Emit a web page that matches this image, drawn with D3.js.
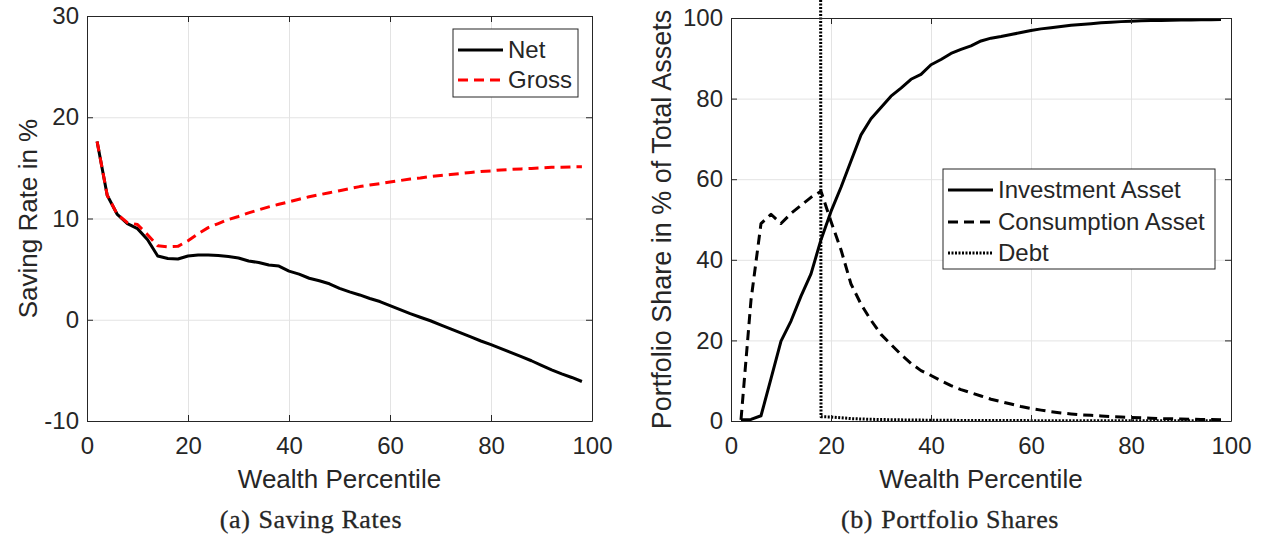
<!DOCTYPE html>
<html>
<head>
<meta charset="utf-8">
<script src="https://cdn.jsdelivr.net/npm/d3@7"></script>
<style>
body { margin: 0; background: #fff; }
svg text { font-family: "Liberation Sans", Arial, sans-serif; fill: #262626; }
</style>
</head>
<body>
<div id="chart"></div>
<script>
// wealth percentile grid shared by both panels
const percentile = [2, 4, 6, 8, 10, 12, 14, 16, 18, 20, 22, 24, 26, 28, 30, 32, 34, 36, 38, 40,
  42, 44, 46, 48, 50, 52, 54, 56, 58, 60, 62, 64, 66, 68, 70, 72, 74, 76, 78, 80,
  82, 84, 86, 88, 90, 92, 94, 96, 98];

// (a) saving rates in %
const netSaving = [17.6, 12.3, 10.4, 9.5, 9.0, 7.9, 6.3, 6.05, 6.0, 6.3, 6.4, 6.4, 6.35, 6.25, 6.1, 5.8, 5.65, 5.4, 5.3, 4.8,
  4.5, 4.1, 3.85, 3.55, 3.1, 2.75, 2.45, 2.1, 1.8, 1.4, 1.0, 0.6, 0.25, -0.1, -0.5, -0.9, -1.3, -1.7, -2.1, -2.45,
  -2.85, -3.25, -3.65, -4.05, -4.5, -4.95, -5.35, -5.7, -6.1];
const grossSaving = [17.6, 12.3, 10.4, 9.6, 9.4, 8.4, 7.3, 7.2, 7.25, 7.8, 8.5, 9.1, 9.5, 9.9, 10.2, 10.55, 10.85, 11.15, 11.4, 11.65,
  11.9, 12.15, 12.35, 12.55, 12.75, 12.95, 13.15, 13.3, 13.45, 13.6, 13.75, 13.9, 14.0, 14.15, 14.25, 14.35, 14.45, 14.55, 14.65, 14.7,
  14.8, 14.85, 14.9, 14.95, 15.0, 15.05, 15.05, 15.1, 15.1];

// (b) portfolio shares in % of total assets
const investShare = [0.3, 0.4, 1.3, 10.5, 19.8, 24.8, 31, 36.5, 45, 52, 58, 64.5, 71, 75, 77.8, 80.6, 82.6, 84.8, 86, 88.4,
  89.7, 91.2, 92.2, 93.1, 94.3, 95.0, 95.4, 95.9, 96.4, 96.9, 97.3, 97.6, 97.9, 98.2, 98.4, 98.6, 98.8, 98.95, 99.1, 99.2,
  99.3, 99.35, 99.4, 99.45, 99.5, 99.5, 99.55, 99.55, 99.6];
const consumShare = [0.3, 30, 49, 51.3, 49, 51.5, 53.5, 55.5, 57, 49.5, 42.5, 34, 29, 25, 21.5, 19, 16.5, 14.3, 12.5, 11.3,
  10, 8.8, 7.8, 7, 6.2, 5.4, 4.8, 4.2, 3.6, 3.1, 2.7, 2.3, 2.0, 1.75, 1.55, 1.4, 1.25, 1.1, 1.0, 0.9,
  0.8, 0.7, 0.6, 0.55, 0.5, 0.45, 0.4, 0.35, 0.3];
// debt is far off the scale for the poorest bins (line comes down from above the axes)
const debtShare = [null, null, null, null, null, null, null, 3000, 1.05, 1.0, 0.8, 0.6, 0.5, 0.42, 0.36, 0.32, 0.28, 0.25, 0.22, 0.2,
  0.18, 0.16, 0.15, 0.14, 0.13, 0.12, 0.11, 0.1, 0.1, 0.09, 0.09, 0.08, 0.08, 0.07, 0.07, 0.07, 0.06, 0.06, 0.06, 0.05,
  0.05, 0.05, 0.05, 0.05, 0.04, 0.04, 0.04, 0.04, 0.04];

const xTicks = [0, 20, 40, 60, 80, 100];
const savingTicks = [-10, 0, 10, 20, 30];
const shareTicks = [0, 20, 40, 60, 80, 100];

const width = 1261;
const height = 538;
const ink = "#262626";

const svg = d3.select("#chart").append("svg")
  .attr("width", width)
  .attr("height", height)
  .style("display", "block");

function drawPanel(opt) {
  const x = d3.scaleLinear().domain([0, 100]).range([opt.left, opt.right]);
  const y = d3.scaleLinear().domain(opt.yDomain).range([opt.bottom, opt.top]);
  const g = svg.append("g");

  // grid
  g.append("g")
    .attr("transform", `translate(0,${opt.bottom})`)
    .call(d3.axisBottom(x).tickValues(xTicks).tickSize(-(opt.bottom - opt.top)).tickFormat(""))
    .call(a => a.select(".domain").remove())
    .call(a => a.selectAll("line").attr("stroke", "#e3e3e3"));
  g.append("g")
    .attr("transform", `translate(${opt.left},0)`)
    .call(d3.axisLeft(y).tickValues(opt.yTicks).tickSize(-(opt.right - opt.left)).tickFormat(""))
    .call(a => a.select(".domain").remove())
    .call(a => a.selectAll("line").attr("stroke", "#e3e3e3"));

  const clipId = "clip" + opt.name;
  svg.append("clipPath").attr("id", clipId)
    .append("rect")
    .attr("x", opt.left).attr("y", opt.top)
    .attr("width", opt.right - opt.left).attr("height", opt.bottom - opt.top);
  // the debt line in the reference runs up past the top of the box
  svg.append("clipPath").attr("id", clipId + "tall")
    .append("rect")
    .attr("x", opt.left).attr("y", 0)
    .attr("width", opt.right - opt.left).attr("height", opt.bottom);

  const line = d3.line()
    .defined(d => d[1] != null)
    .x(d => x(d[0]))
    .y(d => y(d[1]));

  opt.series.forEach(s => {
    g.append("path")
      .datum(percentile.map((p, i) => [p, s.values[i]]))
      .attr("clip-path", `url(#${s.tall ? clipId + "tall" : clipId})`)
      .attr("fill", "none")
      .attr("stroke", s.color)
      .attr("stroke-width", s.width)
      .attr("stroke-dasharray", s.dash)
      .attr("stroke-linejoin", "round")
      .attr("d", line);
  });

  // axes with inward ticks on all sides
  const tick = 6;
  const fmt = d => String(d);
  const axes = g.append("g");
  const bottomAxis = axes.append("g")
    .attr("transform", `translate(0,${opt.bottom})`)
    .call(d3.axisBottom(x).tickValues(xTicks).tickFormat(fmt).tickSizeInner(-tick).tickSizeOuter(0).tickPadding(16));
  const leftAxis = axes.append("g")
    .attr("transform", `translate(${opt.left},0)`)
    .call(d3.axisLeft(y).tickValues(opt.yTicks).tickFormat(fmt).tickSizeInner(-tick).tickSizeOuter(0).tickPadding(8));
  axes.append("g")
    .attr("transform", `translate(0,${opt.top})`)
    .call(d3.axisTop(x).tickValues(xTicks).tickSizeInner(-tick).tickSizeOuter(0).tickFormat(""));
  axes.append("g")
    .attr("transform", `translate(${opt.right},0)`)
    .call(d3.axisRight(y).tickValues(opt.yTicks).tickSizeInner(-tick).tickSizeOuter(0).tickFormat(""));
  axes.selectAll(".domain, .tick line").attr("stroke", ink).attr("stroke-width", 1);
  [bottomAxis, leftAxis].forEach(a => a.selectAll("text")
    .style("font-size", "24px").attr("fill", ink).style("font-family", "'Liberation Sans', Arial, sans-serif"));

  // axis titles
  g.append("text")
    .attr("x", (opt.left + opt.right) / 2)
    .attr("y", 488)
    .attr("text-anchor", "middle")
    .style("font-size", "26px")
    .text("Wealth Percentile");
  g.append("text")
    .attr("transform", `translate(${opt.yLabelX},${(opt.top + opt.bottom) / 2}) rotate(-90)`)
    .attr("text-anchor", "middle")
    .style("font-size", opt.yLabelSize)
    .text(opt.yLabel);

  // legend
  const lg = opt.legend;
  g.append("rect")
    .attr("x", lg.x0).attr("y", lg.y0)
    .attr("width", lg.x1 - lg.x0).attr("height", lg.y1 - lg.y0)
    .attr("fill", "#fff").attr("stroke", ink).attr("stroke-width", 1);
  opt.series.forEach((s, i) => {
    const ry = lg.rows[i];
    g.append("line")
      .attr("x1", lg.x0 + 5).attr("x2", lg.x0 + 50)
      .attr("y1", ry).attr("y2", ry)
      .attr("stroke", s.color).attr("stroke-width", s.width)
      .attr("stroke-dasharray", s.dash);
    g.append("text")
      .attr("x", lg.x0 + 55).attr("y", ry)
      .attr("dy", "0.35em")
      .style("font-size", "24px")
      .text(s.label);
  });

  // caption
  const cap = svg.append("text")
    .attr("x", opt.captionX).attr("y", 528)
    .attr("text-anchor", "middle")
    .style("font-family", "'Liberation Serif', 'DejaVu Serif', serif")
    .style("font-size", "26px")
    .style("letter-spacing", "0.6px")
    .style("stroke", "#262626")
    .style("stroke-width", "0.3px");
  cap.append("tspan").text(opt.captionTag);
  cap.append("tspan").attr("dx", 8).text(opt.caption);
}

drawPanel({
  name: "a",
  left: 87, right: 592, top: 16, bottom: 421,
  yDomain: [-10, 30], yTicks: savingTicks,
  yLabel: "Saving Rate in %", yLabelX: 37, yLabelSize: "26px",
  series: [
    { label: "Net", values: netSaving, color: "#000", width: 3, dash: null },
    { label: "Gross", values: grossSaving, color: "#ff0000", width: 3, dash: "10,6" }
  ],
  legend: { x0: 453, x1: 578, y0: 29, y1: 97, rows: [50, 80] },
  captionX: 311, captionTag: "(a)", caption: "Saving Rates"
});

drawPanel({
  name: "b",
  left: 731, right: 1231, top: 18, bottom: 421,
  yDomain: [0, 100], yTicks: shareTicks,
  yLabel: "Portfolio Share in % of Total Assets", yLabelX: 671, yLabelSize: "27px",
  series: [
    { label: "Investment Asset", values: investShare, color: "#000", width: 3, dash: null },
    { label: "Consumption Asset", values: consumShare, color: "#000", width: 3, dash: "10,6" },
    { label: "Debt", values: debtShare, color: "#000", width: 3, dash: "2,1.5", tall: true }
  ],
  legend: { x0: 943, x1: 1215, y0: 169, y1: 269, rows: [190, 222, 253] },
  captionX: 950, captionTag: "(b)", caption: "Portfolio Shares"
});
</script>
</body>
</html>
